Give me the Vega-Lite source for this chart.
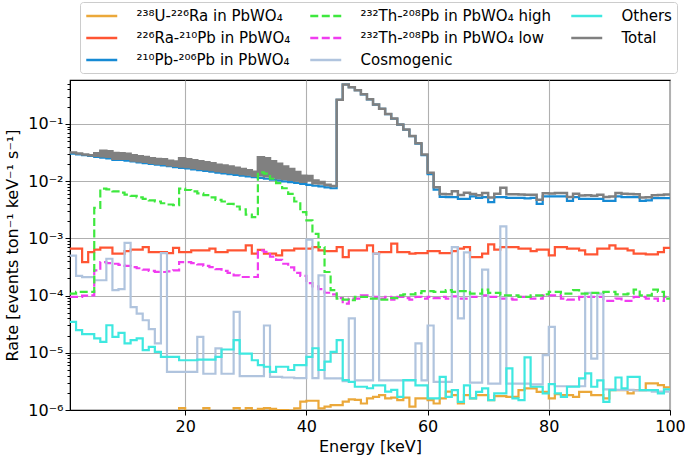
{
  "$schema": "https://vega.github.io/schema/vega-lite/v6.json",
  "width": 600,
  "height": 330,
  "autosize": {"type": "none"},
  "padding": {"left": 70, "top": 80, "right": 15, "bottom": 45},
  "background": "white",
  "config": {
    "font": "DejaVu Sans",
    "view": {"stroke": "#000000", "strokeWidth": 1.2},
    "axis": {"domainColor": "#000000", "tickColor": "#000000", "labelColor": "#000000", "titleColor": "#000000", "gridColor": "#b0b0b0", "gridWidth": 1.1, "labelFontSize": 16, "titleFontSize": 16, "titleFontWeight": "normal", "labelFlush": false},
    "legend": {
      "orient": "none", "legendX": 10, "legendY": -78, "columns": 3, "title": null,
      "symbolType": "M-2,0H2", "symbolSize": 240, "symbolOffset": 7.75, "symbolStrokeWidth": 2.5,
      "labelFontSize": 15, "labelColor": "#000000", "labelOffset": 25.75, "labelLimit": 320, "columnPadding": 14, "rowPadding": 5,
      "padding": 5, "fillColor": "white", "strokeColor": "#cccccc", "cornerRadius": 3
    }
  },
  "data": {"values": [
    {"E":1,"U":3.0e-7,"Ra":6.6e-4,"Pb":0.0302,"ThH":1.08e-4,"ThL":9.45e-5,"Cos":5.0e-4,"Oth":3.47e-5,"lo":0.03149,"hi":0.0315},
    {"E":2,"U":3.5e-7,"Ra":6.6e-4,"Pb":0.0293,"ThH":1.16e-4,"ThL":9.45e-5,"Cos":2.2e-4,"Oth":2.48e-5,"lo":0.0303,"hi":0.03032},
    {"E":3,"U":4.0e-7,"Ra":3.85e-4,"Pb":0.0284,"ThH":1.16e-4,"ThL":1.0e-4,"Cos":2.1e-4,"Oth":2.11e-5,"lo":0.02912,"hi":0.02913},
    {"E":4,"U":4.5e-7,"Ra":5.76e-4,"Pb":0.0275,"ThH":1.16e-4,"ThL":1.01e-4,"Cos":2.1e-4,"Oth":2.11e-5,"lo":0.02841,"hi":0.02842},
    {"E":5,"U":5.0e-7,"Ra":6.34e-4,"Pb":0.0266,"ThH":3.4e-3,"ThL":2.76e-4,"Cos":1.85e-4,"Oth":1.78e-5,"lo":0.02771,"hi":0.03084},
    {"E":6,"U":5.3e-7,"Ra":6.87e-4,"Pb":0.0258,"ThH":7.4e-3,"ThL":3.85e-4,"Cos":1.85e-4,"Oth":1.55e-5,"lo":0.02707,"hi":0.03409},
    {"E":7,"U":5.6e-7,"Ra":6.87e-4,"Pb":0.025,"ThH":7.2e-3,"ThL":3.7e-4,"Cos":4.4e-4,"Oth":3.03e-5,"lo":0.02653,"hi":0.03336},
    {"E":8,"U":6.0e-7,"Ra":5.4e-4,"Pb":0.0236,"ThH":6.6e-3,"ThL":3.6e-4,"Cos":1.24e-4,"Oth":1.9e-5,"lo":0.02464,"hi":0.03088},
    {"E":9,"U":6.3e-7,"Ra":5.4e-4,"Pb":0.0236,"ThH":6.3e-3,"ThL":3.45e-4,"Cos":1.3e-4,"Oth":2.23e-5,"lo":0.02464,"hi":0.03059},
    {"E":10,"U":6.6e-7,"Ra":6.0e-4,"Pb":0.0227,"ThH":5.8e-3,"ThL":3.3e-4,"Cos":8.3e-4,"Oth":1.46e-5,"lo":0.02448,"hi":0.02995},
    {"E":11,"U":6.9e-7,"Ra":6.34e-4,"Pb":0.022,"ThH":5.5e-3,"ThL":3.15e-4,"Cos":6.3e-5,"Oth":1.66e-5,"lo":0.02303,"hi":0.02821},
    {"E":12,"U":7.2e-7,"Ra":6.34e-4,"Pb":0.0213,"ThH":5.2e-3,"ThL":3.0e-4,"Cos":4.85e-5,"Oth":1.78e-5,"lo":0.0223,"hi":0.0272},
    {"E":13,"U":7.5e-7,"Ra":7.05e-4,"Pb":0.0207,"ThH":4.9e-3,"ThL":2.85e-4,"Cos":3.7e-5,"Oth":1.11e-5,"lo":0.02174,"hi":0.02635},
    {"E":14,"U":7.8e-7,"Ra":5.76e-4,"Pb":0.02,"ThH":4.6e-3,"ThL":2.7e-4,"Cos":2.6e-5,"Oth":1.27e-5,"lo":0.02089,"hi":0.02522},
    {"E":15,"U":8.1e-7,"Ra":5.76e-4,"Pb":0.0194,"ThH":4.4e-3,"ThL":2.6e-4,"Cos":1.46e-5,"Oth":1.04e-5,"lo":0.02026,"hi":0.0244},
    {"E":16,"U":8.4e-7,"Ra":5.76e-4,"Pb":0.0188,"ThH":4.1e-3,"ThL":2.58e-4,"Cos":5.5e-4,"Oth":8.5e-6,"lo":0.02019,"hi":0.02404},
    {"E":17,"U":8.7e-7,"Ra":5.53e-4,"Pb":0.0182,"ThH":3.9e-3,"ThL":2.65e-4,"Cos":4.65e-6,"Oth":8.5e-6,"lo":0.01903,"hi":0.02267},
    {"E":18,"U":9.0e-7,"Ra":6.8e-4,"Pb":0.0176,"ThH":3.8e-3,"ThL":2.76e-4,"Cos":4.65e-6,"Oth":8.5e-6,"lo":0.01857,"hi":0.02209},
    {"E":19,"U":1.08e-6,"Ra":5.76e-4,"Pb":0.0171,"ThH":7.4e-3,"ThL":3.85e-4,"Cos":4.65e-6,"Oth":7.4e-6,"lo":0.01807,"hi":0.02509},
    {"E":20,"U":9.2e-7,"Ra":5.76e-4,"Pb":0.0166,"ThH":7.0e-3,"ThL":3.85e-4,"Cos":4.65e-6,"Oth":7.4e-6,"lo":0.01757,"hi":0.02419},
    {"E":21,"U":9.3e-7,"Ra":6.17e-4,"Pb":0.016,"ThH":6.6e-3,"ThL":3.7e-4,"Cos":4.65e-6,"Oth":7.4e-6,"lo":0.017,"hi":0.02323},
    {"E":22,"U":9.4e-7,"Ra":6.17e-4,"Pb":0.0155,"ThH":6.1e-3,"ThL":3.5e-4,"Cos":1.9e-5,"Oth":7.6e-6,"lo":0.01649,"hi":0.02224},
    {"E":23,"U":1.08e-6,"Ra":6.17e-4,"Pb":0.0151,"ThH":5.7e-3,"ThL":3.3e-4,"Cos":4.3e-6,"Oth":7.6e-6,"lo":0.01606,"hi":0.02143},
    {"E":24,"U":9.5e-7,"Ra":6.6e-4,"Pb":0.0146,"ThH":5.2e-3,"ThL":3.15e-4,"Cos":4.3e-6,"Oth":7.6e-6,"lo":0.01559,"hi":0.02047},
    {"E":25,"U":9.5e-7,"Ra":5.76e-4,"Pb":0.0141,"ThH":4.7e-3,"ThL":2.9e-4,"Cos":1.19e-5,"Oth":8.5e-6,"lo":0.01499,"hi":0.0194},
    {"E":26,"U":9.6e-7,"Ra":5.76e-4,"Pb":0.0137,"ThH":4.4e-3,"ThL":2.7e-4,"Cos":4.3e-6,"Oth":1.14e-5,"lo":0.01456,"hi":0.01869},
    {"E":27,"U":9.6e-7,"Ra":6.17e-4,"Pb":0.0133,"ThH":4.0e-3,"ThL":2.5e-4,"Cos":4.3e-6,"Oth":1.14e-5,"lo":0.01418,"hi":0.01793},
    {"E":28,"U":1.08e-6,"Ra":6.17e-4,"Pb":0.0129,"ThH":3.6e-3,"ThL":2.25e-4,"Cos":5.2e-5,"Oth":1.66e-5,"lo":0.01381,"hi":0.01719},
    {"E":29,"U":9.7e-7,"Ra":6.17e-4,"Pb":0.0125,"ThH":3.2e-3,"ThL":2.11e-4,"Cos":3.9e-6,"Oth":9.7e-6,"lo":0.01334,"hi":0.01633},
    {"E":30,"U":1.08e-6,"Ra":7.54e-4,"Pb":0.0121,"ThH":2.6e-3,"ThL":2.11e-4,"Cos":3.9e-6,"Oth":9.7e-6,"lo":0.01308,"hi":0.01547},
    {"E":31,"U":9.8e-7,"Ra":5.4e-4,"Pb":0.0117,"ThH":2.35e-3,"ThL":2.11e-4,"Cos":3.9e-6,"Oth":7.4e-6,"lo":0.01246,"hi":0.0146},
    {"E":32,"U":1.05e-6,"Ra":6.3e-4,"Pb":0.0114,"ThH":0.0142,"ThL":6.17e-4,"Cos":3.9e-6,"Oth":6.1e-6,"lo":0.01266,"hi":0.02624},
    {"E":33,"U":1.08e-6,"Ra":5.4e-4,"Pb":0.011,"ThH":0.0135,"ThL":5.8e-4,"Cos":3.0e-5,"Oth":5.7e-6,"lo":0.01216,"hi":0.02508},
    {"E":34,"U":1.05e-6,"Ra":5.4e-4,"Pb":0.0106,"ThH":0.011,"ThL":4.8e-4,"Cos":3.8e-6,"Oth":4.65e-6,"lo":0.01163,"hi":0.02215},
    {"E":35,"U":1.0e-6,"Ra":5.05e-4,"Pb":0.0103,"ThH":9.2e-3,"ThL":4.2e-4,"Cos":3.8e-6,"Oth":5.7e-6,"lo":0.01124,"hi":0.02002},
    {"E":36,"U":1.0e-6,"Ra":6.17e-4,"Pb":0.0099,"ThH":7.5e-3,"ThL":3.6e-4,"Cos":3.7e-6,"Oth":5.7e-6,"lo":0.01089,"hi":0.01803},
    {"E":37,"U":9.8e-7,"Ra":6.17e-4,"Pb":0.0096,"ThH":6.0e-3,"ThL":3.1e-4,"Cos":3.7e-6,"Oth":5.0e-6,"lo":0.01054,"hi":0.01623},
    {"E":38,"U":1.07e-6,"Ra":6.6e-4,"Pb":0.0093,"ThH":4.4e-3,"ThL":2.5e-4,"Cos":3.6e-6,"Oth":6.1e-6,"lo":0.01022,"hi":0.01437},
    {"E":39,"U":1.4e-6,"Ra":6.6e-4,"Pb":0.0089,"ThH":2.87e-3,"ThL":2.2e-4,"Cos":3.6e-6,"Oth":6.1e-6,"lo":0.00979,"hi":0.01244},
    {"E":40,"U":1.45e-6,"Ra":6.6e-4,"Pb":0.0086,"ThH":2.06e-3,"ThL":1.65e-4,"Cos":9.5e-4,"Oth":8.5e-6,"lo":0.01039,"hi":0.01228},
    {"E":41,"U":1.45e-6,"Ra":7.05e-4,"Pb":0.0083,"ThH":1.2e-3,"ThL":1.45e-4,"Cos":3.6e-6,"Oth":1.2e-5,"lo":0.00917,"hi":0.01022},
    {"E":42,"U":1.07e-6,"Ra":6.17e-4,"Pb":0.0081,"ThH":7.05e-4,"ThL":1.3e-4,"Cos":2.26e-4,"Oth":5.0e-6,"lo":0.00908,"hi":0.00965},
    {"E":43,"U":1.15e-6,"Ra":6.0e-4,"Pb":0.0078,"ThH":2.58e-4,"ThL":1.12e-4,"Cos":3.56e-6,"Oth":7.0e-6,"lo":0.00852,"hi":0.00867},
    {"E":44,"U":1.22e-6,"Ra":6.0e-4,"Pb":0.0075,"ThH":1.24e-4,"ThL":1.05e-4,"Cos":3.56e-6,"Oth":1.04e-5,"lo":0.00822,"hi":0.00824},
    {"E":45,"U":1.22e-6,"Ra":7.05e-4,"Pb":0.263,"ThH":8.85e-5,"ThL":9.0e-5,"Cos":3.56e-6,"Oth":1.66e-5,"lo":0.2638,"hi":0.2638},
    {"E":46,"U":1.4e-6,"Ra":4.71e-4,"Pb":0.488,"ThH":8.5e-5,"ThL":7.24e-5,"Cos":3.2e-6,"Oth":3.33e-6,"lo":0.4886,"hi":0.4886},
    {"E":47,"U":1.53e-6,"Ra":6.17e-4,"Pb":0.438,"ThH":8.28e-5,"ThL":8.85e-5,"Cos":4.0e-5,"Oth":3.1e-6,"lo":0.4388,"hi":0.4388},
    {"E":48,"U":1.5e-6,"Ra":6.17e-4,"Pb":0.388,"ThH":9.45e-5,"ThL":8.85e-5,"Cos":3.3e-6,"Oth":2.55e-6,"lo":0.3887,"hi":0.3887},
    {"E":49,"U":1.3e-6,"Ra":6.17e-4,"Pb":0.328,"ThH":9.45e-5,"ThL":1.01e-4,"Cos":3.3e-6,"Oth":2.55e-6,"lo":0.3287,"hi":0.3287},
    {"E":50,"U":1.6e-6,"Ra":7.54e-4,"Pb":0.268,"ThH":8.85e-5,"ThL":1.01e-4,"Cos":3.3e-6,"Oth":2.4e-6,"lo":0.2689,"hi":0.2689},
    {"E":51,"U":1.7e-6,"Ra":5.4e-4,"Pb":0.218,"ThH":8.85e-5,"ThL":9.45e-5,"Cos":5.4e-4,"Oth":2.7e-6,"lo":0.2192,"hi":0.2192},
    {"E":52,"U":1.82e-6,"Ra":5.76e-4,"Pb":0.183,"ThH":8.5e-5,"ThL":8.85e-5,"Cos":3.3e-6,"Oth":2.7e-6,"lo":0.1837,"hi":0.1837},
    {"E":53,"U":1.6e-6,"Ra":5.76e-4,"Pb":0.148,"ThH":8.5e-5,"ThL":9.45e-5,"Cos":3.3e-6,"Oth":2.1e-6,"lo":0.1487,"hi":0.1487},
    {"E":54,"U":1.65e-6,"Ra":8.07e-4,"Pb":0.123,"ThH":9.0e-5,"ThL":8.5e-5,"Cos":3.3e-6,"Oth":2.25e-6,"lo":0.1239,"hi":0.1239},
    {"E":55,"U":1.49e-6,"Ra":5.76e-4,"Pb":0.097,"ThH":1.01e-4,"ThL":9.45e-5,"Cos":3.3e-6,"Oth":1.7e-6,"lo":0.09768,"hi":0.09768},
    {"E":56,"U":1.65e-6,"Ra":5.76e-4,"Pb":0.079,"ThH":1.05e-4,"ThL":9.0e-5,"Cos":3.3e-6,"Oth":3.33e-6,"lo":0.07968,"hi":0.07968},
    {"E":57,"U":1.15e-6,"Ra":5.4e-4,"Pb":0.061,"ThH":1.05e-4,"ThL":8.5e-5,"Cos":3.3e-6,"Oth":3.33e-6,"lo":0.06164,"hi":0.06164},
    {"E":58,"U":1.6e-6,"Ra":5.53e-4,"Pb":0.045,"ThH":1.1e-4,"ThL":9.45e-5,"Cos":1.46e-5,"Oth":2.7e-6,"lo":0.04567,"hi":0.04567},
    {"E":59,"U":1.6e-6,"Ra":5.53e-4,"Pb":0.0285,"ThH":1.2e-4,"ThL":8.85e-5,"Cos":3.3e-6,"Oth":2.7e-6,"lo":0.02917,"hi":0.02917},
    {"E":60,"U":1.49e-6,"Ra":6.0e-4,"Pb":0.0133,"ThH":1.2e-4,"ThL":9.45e-5,"Cos":3.0e-5,"Oth":1.6e-6,"lo":0.01404,"hi":0.01404},
    {"E":61,"U":1.3e-6,"Ra":6.0e-4,"Pb":0.0071,"ThH":1.16e-4,"ThL":9.0e-5,"Cos":3.1e-6,"Oth":1.6e-6,"lo":0.00781,"hi":0.00781},
    {"E":62,"U":1.6e-6,"Ra":5.53e-4,"Pb":0.0053,"ThH":1.16e-4,"ThL":9.45e-5,"Cos":3.1e-6,"Oth":3.8e-6,"lo":0.00597,"hi":0.00597},
    {"E":63,"U":2.09e-6,"Ra":5.53e-4,"Pb":0.00525,"ThH":1.24e-4,"ThL":8.85e-5,"Cos":3.1e-6,"Oth":1.7e-6,"lo":0.00592,"hi":0.00592},
    {"E":64,"U":1.82e-6,"Ra":6.0e-4,"Pb":0.00525,"ThH":1.16e-4,"ThL":9.7e-5,"Cos":7.0e-4,"Oth":2.23e-6,"lo":0.00666,"hi":0.00666},
    {"E":65,"U":1.31e-6,"Ra":6.6e-4,"Pb":0.0049,"ThH":1.2e-4,"ThL":8.85e-5,"Cos":4.0e-5,"Oth":1.39e-6,"lo":0.00571,"hi":0.00571},
    {"E":66,"U":1.82e-6,"Ra":7.05e-4,"Pb":0.0049,"ThH":1.2e-4,"ThL":8.85e-5,"Cos":5.7e-4,"Oth":2.7e-6,"lo":0.00628,"hi":0.00628},
    {"E":67,"U":1.6e-6,"Ra":4.71e-4,"Pb":0.0054,"ThH":1.08e-4,"ThL":9.45e-5,"Cos":3.0e-6,"Oth":1.6e-6,"lo":0.00598,"hi":0.00598},
    {"E":68,"U":1.82e-6,"Ra":4.71e-4,"Pb":0.0051,"ThH":1.08e-4,"ThL":9.45e-5,"Cos":3.0e-6,"Oth":2.08e-6,"lo":0.00568,"hi":0.00568},
    {"E":69,"U":1.82e-6,"Ra":5.4e-4,"Pb":0.00525,"ThH":1.27e-4,"ThL":1.01e-4,"Cos":2.84e-4,"Oth":2.39e-6,"lo":0.0062,"hi":0.0062},
    {"E":70,"U":1.49e-6,"Ra":7.85e-4,"Pb":0.0043,"ThH":1.11e-4,"ThL":9.45e-5,"Cos":2.9e-6,"Oth":1.49e-6,"lo":0.00519,"hi":0.00519},
    {"E":71,"U":1.75e-6,"Ra":6.34e-4,"Pb":0.00525,"ThH":1.11e-4,"ThL":9.45e-5,"Cos":2.9e-6,"Oth":1.95e-6,"lo":0.00599,"hi":0.00599},
    {"E":72,"U":1.75e-6,"Ra":7.05e-4,"Pb":0.00525,"ThH":1.01e-4,"ThL":8.85e-5,"Cos":1.62e-3,"Oth":1.95e-6,"lo":0.00768,"hi":0.00768},
    {"E":73,"U":1.7e-6,"Ra":7.05e-4,"Pb":0.0051,"ThH":1.01e-4,"ThL":8.85e-5,"Cos":2.9e-6,"Oth":5.33e-6,"lo":0.00591,"hi":0.00591},
    {"E":74,"U":1.7e-6,"Ra":7.05e-4,"Pb":0.0051,"ThH":1.01e-4,"ThL":8.5e-5,"Cos":2.9e-6,"Oth":1.6e-6,"lo":0.0059,"hi":0.0059},
    {"E":75,"U":2.23e-6,"Ra":6.6e-4,"Pb":0.0051,"ThH":9.45e-5,"ThL":9.45e-5,"Cos":2.9e-6,"Oth":1.49e-6,"lo":0.00586,"hi":0.00586},
    {"E":76,"U":2.39e-6,"Ra":6.6e-4,"Pb":0.005,"ThH":9.45e-5,"ThL":9.45e-5,"Cos":2.9e-6,"Oth":8.3e-6,"lo":0.00577,"hi":0.00577},
    {"E":77,"U":2.39e-6,"Ra":6.0e-4,"Pb":0.0051,"ThH":1.01e-4,"ThL":8.85e-5,"Cos":2.8e-6,"Oth":2.55e-6,"lo":0.0058,"hi":0.0058},
    {"E":78,"U":2.08e-6,"Ra":6.34e-4,"Pb":0.004,"ThH":1.01e-4,"ThL":8.85e-5,"Cos":2.8e-6,"Oth":2.55e-6,"lo":0.00474,"hi":0.00474},
    {"E":79,"U":2.08e-6,"Ra":6.34e-4,"Pb":0.0054,"ThH":1.05e-4,"ThL":1.01e-4,"Cos":9.1e-6,"Oth":1.95e-6,"lo":0.00615,"hi":0.00615},
    {"E":80,"U":1.6e-6,"Ra":5.05e-4,"Pb":0.0054,"ThH":1.16e-4,"ThL":1.01e-4,"Cos":2.83e-5,"Oth":2.84e-6,"lo":0.00605,"hi":0.00605},
    {"E":81,"U":1.9e-6,"Ra":7.05e-4,"Pb":0.0054,"ThH":1.16e-4,"ThL":1.01e-4,"Cos":2.6e-6,"Oth":1.95e-6,"lo":0.00622,"hi":0.00622},
    {"E":82,"U":1.82e-6,"Ra":7.05e-4,"Pb":0.0054,"ThH":1.08e-4,"ThL":8.85e-5,"Cos":2.6e-6,"Oth":1.7e-6,"lo":0.00621,"hi":0.00621},
    {"E":83,"U":1.82e-6,"Ra":6.6e-4,"Pb":0.0045,"ThH":1.08e-4,"ThL":8.5e-5,"Cos":2.6e-6,"Oth":2.55e-6,"lo":0.00526,"hi":0.00526},
    {"E":84,"U":1.7e-6,"Ra":6.6e-4,"Pb":0.00525,"ThH":1.24e-4,"ThL":8.5e-5,"Cos":2.6e-6,"Oth":2.55e-6,"lo":0.00602,"hi":0.00602},
    {"E":85,"U":2.08e-6,"Ra":6.17e-4,"Pb":0.0049,"ThH":1.08e-4,"ThL":9.45e-5,"Cos":2.6e-6,"Oth":3.57e-6,"lo":0.00563,"hi":0.00563},
    {"E":86,"U":2.08e-6,"Ra":5.25e-4,"Pb":0.0049,"ThH":1.08e-4,"ThL":9.45e-5,"Cos":1.11e-4,"Oth":4.36e-6,"lo":0.00564,"hi":0.00564},
    {"E":87,"U":1.82e-6,"Ra":5.25e-4,"Pb":0.0049,"ThH":1.11e-4,"ThL":9.45e-5,"Cos":7.9e-6,"Oth":2.55e-6,"lo":0.00554,"hi":0.00554},
    {"E":88,"U":1.82e-6,"Ra":6.6e-4,"Pb":0.0049,"ThH":1.11e-4,"ThL":9.45e-5,"Cos":1.08e-4,"Oth":3.3e-6,"lo":0.00578,"hi":0.00578},
    {"E":89,"U":1.6e-6,"Ra":6.6e-4,"Pb":0.0045,"ThH":1.16e-4,"ThL":8.05e-5,"Cos":2.3e-6,"Oth":1.39e-6,"lo":0.00526,"hi":0.00526},
    {"E":90,"U":2.23e-6,"Ra":7.54e-4,"Pb":0.0045,"ThH":1.16e-4,"ThL":8.05e-5,"Cos":2.3e-6,"Oth":2.23e-6,"lo":0.00536,"hi":0.00536},
    {"E":91,"U":2.23e-6,"Ra":6.6e-4,"Pb":0.0054,"ThH":1.05e-4,"ThL":8.85e-5,"Cos":2.25e-6,"Oth":3.7e-6,"lo":0.00617,"hi":0.00617},
    {"E":92,"U":2.23e-6,"Ra":6.6e-4,"Pb":0.00525,"ThH":1.05e-4,"ThL":8.05e-5,"Cos":2.25e-6,"Oth":2.39e-6,"lo":0.00601,"hi":0.00601},
    {"E":93,"U":1.95e-6,"Ra":6.17e-4,"Pb":0.00525,"ThH":1.08e-4,"ThL":8.05e-5,"Cos":2.25e-6,"Oth":3.8e-6,"lo":0.00597,"hi":0.00597},
    {"E":94,"U":2.23e-6,"Ra":5.4e-4,"Pb":0.00525,"ThH":1.27e-4,"ThL":9.45e-5,"Cos":2.2e-6,"Oth":3.8e-6,"lo":0.00591,"hi":0.00591},
    {"E":95,"U":2.23e-6,"Ra":5.4e-4,"Pb":0.0045,"ThH":1.01e-4,"ThL":9.45e-5,"Cos":2.2e-6,"Oth":2.23e-6,"lo":0.00515,"hi":0.00515},
    {"E":96,"U":2.92e-6,"Ra":5.25e-4,"Pb":0.0046,"ThH":1.01e-4,"ThL":8.85e-5,"Cos":2.2e-6,"Oth":2.23e-6,"lo":0.00523,"hi":0.00523},
    {"E":97,"U":2.92e-6,"Ra":5.25e-4,"Pb":0.00505,"ThH":1.27e-4,"ThL":8.85e-5,"Cos":2.1e-6,"Oth":2.23e-6,"lo":0.00569,"hi":0.00569},
    {"E":98,"U":2.72e-6,"Ra":5.76e-4,"Pb":0.00505,"ThH":1.16e-4,"ThL":8.05e-5,"Cos":2.1e-6,"Oth":1.95e-6,"lo":0.00573,"hi":0.00573},
    {"E":99,"U":2.48e-6,"Ra":6.8e-4,"Pb":0.00505,"ThH":8.85e-5,"ThL":9.45e-5,"Cos":2.1e-6,"Oth":2.3e-6,"lo":0.00583,"hi":0.00583},
    {"E":100,"U":2.48e-6,"Ra":6.8e-4,"Pb":0.00505,"ThH":8.85e-5,"ThL":9.45e-5,"Cos":2.1e-6,"Oth":2.3e-6,"lo":0.00583,"hi":0.00583}
  ]},
  "encoding": {
    "x": {"field": "E", "type": "quantitative", "title": "Energy [keV]",
      "scale": {"domain": [1, 100], "nice": false, "zero": false},
      "axis": {"values": [20, 40, 60, 80, 100], "format": "d", "tickSize": 5, "labelPadding": 3, "titlePadding": 4, "grid": true}}
  },
  "layer": [
    {
      "transform": [
        {"fold": ["U", "Ra", "Pb", "ThL", "Cos", "Oth"], "as": ["key", "v"]}
      ],
      "mark": {"type": "line", "interpolate": "step-after", "clip": true, "strokeWidth": 2.2},
      "encoding": {
        "y": {"field": "v", "type": "quantitative", "title": "Rate [events ton⁻¹ keV⁻¹ s⁻¹]",
          "scale": {"type": "log", "domain": [1e-6, 0.585], "nice": false},
          "axis": {
            "values": [1e-6,2e-6,3e-6,4e-6,5e-6,6e-6,7e-6,8e-6,9e-6,1e-5,2e-5,3e-5,4e-5,5e-5,6e-5,7e-5,8e-5,9e-5,1e-4,2e-4,3e-4,4e-4,5e-4,6e-4,7e-4,8e-4,9e-4,1e-3,2e-3,3e-3,4e-3,5e-3,6e-3,7e-3,8e-3,9e-3,0.01,0.02,0.03,0.04,0.05,0.06,0.07,0.08,0.09,0.1,0.2,0.3,0.4,0.5],
            "labelExpr": "abs(log(datum.value)/LN10 - round(log(datum.value)/LN10)) < 1e-6 ? '10' + ['⁻⁶','⁻⁵','⁻⁴','⁻³','⁻²','⁻¹','⁰'][round(log(datum.value)/LN10) + 6] : ''",
            "grid": true,
            "gridOpacity": {"condition": {"test": "abs(log(datum.value)/LN10 - round(log(datum.value)/LN10)) < 1e-6", "value": 1}, "value": 0},
            "tickSize": {"condition": {"test": "abs(log(datum.value)/LN10 - round(log(datum.value)/LN10)) < 1e-6", "value": 5}, "value": 3},
            "labelPadding": 2,
            "titleX": -58,
            "titleY": 165,
            "titleAlign": "center",
            "titleBaseline": "middle"
          }},
        "color": {"field": "key", "type": "nominal",
          "scale": {"domain": ["U", "Ra", "Pb", "ThH", "ThL", "Cos", "Oth", "Tot"],
                    "range": ["#eba83a", "#ff5533", "#168ad4", "#3ee83e", "#f03cf0", "#b0c4de", "#3ee8e0", "#808080"]},
          "legend": {
            "labelExpr": "datum.label == 'U' ? '²³⁸U-²²⁶Ra in PbWO₄' : datum.label == 'Ra' ? '²²⁶Ra-²¹⁰Pb in PbWO₄' : datum.label == 'Pb' ? '²¹⁰Pb-²⁰⁶Pb in PbWO₄' : datum.label == 'ThH' ? '²³²Th-²⁰⁸Pb in PbWO₄ high' : datum.label == 'ThL' ? '²³²Th-²⁰⁸Pb in PbWO₄ low' : datum.label == 'Cos' ? 'Cosmogenic' : datum.label == 'Oth' ? 'Others' : 'Total'"
          }},
        "strokeDash": {"field": "key", "type": "nominal",
          "scale": {"domain": ["U", "Ra", "Pb", "ThH", "ThL", "Cos", "Oth", "Tot"],
                    "range": [[1, 0], [1, 0], [1, 0], [8, 3.5], [8, 3.5], [1, 0], [1, 0], [1, 0]]},
          "legend": {
            "labelExpr": "datum.label == 'U' ? '²³⁸U-²²⁶Ra in PbWO₄' : datum.label == 'Ra' ? '²²⁶Ra-²¹⁰Pb in PbWO₄' : datum.label == 'Pb' ? '²¹⁰Pb-²⁰⁶Pb in PbWO₄' : datum.label == 'ThH' ? '²³²Th-²⁰⁸Pb in PbWO₄ high' : datum.label == 'ThL' ? '²³²Th-²⁰⁸Pb in PbWO₄ low' : datum.label == 'Cos' ? 'Cosmogenic' : datum.label == 'Oth' ? 'Others' : 'Total'"
          }}
      }
    },
    {
      "mark": {"type": "area", "interpolate": "step-after", "clip": true, "color": "#808080", "fill": "#808080", "stroke": "#808080", "strokeWidth": 2.5, "opacity": 1},
      "encoding": {
        "y": {"field": "lo", "type": "quantitative", "title": "Rate [events ton⁻¹ keV⁻¹ s⁻¹]"},
        "y2": {"field": "hi"}
      }
    },
    {
      "transform": [
        {"fold": ["ThH"], "as": ["key", "v"]}
      ],
      "mark": {"type": "line", "interpolate": "step-after", "clip": true, "strokeWidth": 2.2},
      "encoding": {
        "y": {"field": "v", "type": "quantitative", "title": "Rate [events ton⁻¹ keV⁻¹ s⁻¹]"},
        "color": {"field": "key", "type": "nominal"},
        "strokeDash": {"field": "key", "type": "nominal"}
      }
    }
  ]
}
